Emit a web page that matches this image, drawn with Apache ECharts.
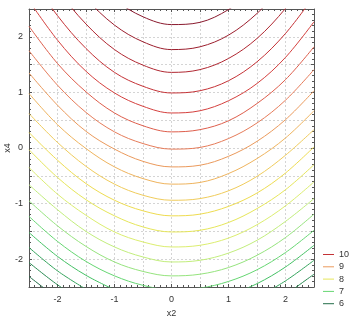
<!DOCTYPE html>
<html>
<head>
<meta charset="utf-8">
<script src="https://cdn.jsdelivr.net/npm/echarts@6/dist/echarts.min.js"></script>
<style>
  html, body { margin: 0; padding: 0; background: #fff; }
  #chart { width: 358px; height: 326px; }
</style>
</head>
<body>
<div id="chart"></div>
<script>
// contour levels, top (red) to bottom (green)
var levels = [10.75, 10.5, 10.25, 10, 9.75, 9.5, 9.25, 9, 8.75, 8.5, 8.25, 8, 7.75, 7.5, 7.25, 7, 6.75, 6.5, 6.25, 6];
var legendLevels = ['10', '9', '8', '7', '6'];
var xTicks = [-2, -1, 0, 1, 2];
var yTicks = [-2, -1, 0, 1, 2];

// x2 positions where the contours were read
var x2Grid = [-2.5, -2, -1.5, -1, -0.5, 0, 0.5, 1, 1.5, 2, 2.5];

// x4 of each contour at x2Grid (null = off the plot)
var x4Read = [
  [null, null, 3.15, 2.67, 2.36, 2.22, 2.26, 2.49, 2.88, null, null],
  [null, 3.30, 2.69, 2.21, 1.91, 1.77, 1.82, 2.03, 2.42, 2.97, null],
  [3.57, 2.84, 2.23, 1.77, 1.49, 1.36, 1.41, 1.61, 1.97, 2.51, 3.19],
  [3.11, 2.38, 1.79, 1.36, 1.11, 0.99, 1.03, 1.21, 1.55, 2.06, 2.73],
  [2.65, 1.94, 1.38, 0.99, 0.75, 0.63, 0.67, 0.85, 1.16, 1.63, 2.27],
  [2.19, 1.52, 1.01, 0.63, 0.40, 0.29, 0.33, 0.49, 0.80, 1.23, 1.82],
  [1.75, 1.13, 0.64, 0.29, 0.08, -0.02, 0.01, 0.17, 0.45, 0.86, 1.41],
  [1.35, 0.77, 0.30, -0.02, -0.24, -0.34, -0.31, -0.15, 0.12, 0.51, 1.03],
  [0.98, 0.42, -0.01, -0.34, -0.55, -0.65, -0.62, -0.46, -0.19, 0.18, 0.67],
  [0.62, 0.10, -0.33, -0.65, -0.85, -0.94, -0.91, -0.77, -0.51, -0.13, 0.33],
  [0.28, -0.22, -0.64, -0.94, -1.13, -1.22, -1.19, -1.05, -0.81, -0.45, 0.02],
  [-0.03, -0.53, -0.93, -1.22, -1.42, -1.51, -1.48, -1.34, -1.09, -0.75, -0.30],
  [-0.35, -0.83, -1.21, -1.51, -1.69, -1.78, -1.75, -1.62, -1.38, -1.04, -0.61],
  [-0.66, -1.11, -1.50, -1.78, -1.96, -2.05, -2.02, -1.89, -1.66, -1.32, -0.91],
  [-0.95, -1.40, -1.77, -2.05, -2.22, -2.30, -2.27, -2.15, -1.93, -1.61, -1.19],
  [-1.23, -1.68, -2.04, -2.30, -2.47, -2.55, -2.52, -2.40, -2.19, -1.88, -1.48],
  [-1.52, -1.95, -2.29, -2.55, null, null, null, -2.65, -2.44, -2.14, -1.75],
  [-1.79, -2.21, -2.54, null, null, null, null, null, -2.69, -2.39, -2.02],
  [-2.06, -2.46, -2.79, null, null, null, null, null, null, -2.64, -2.27],
  [-2.31, -2.71, null, null, null, null, null, null, null, null, null]
];

var lineColors = [
  '#8a1a2e', '#9c1f2e', '#b02832', '#c43236', '#d4403e', '#de5e4c', '#e67c5a', '#eb9a5c',
  '#efb45e', '#f0cc5c', '#eedc50', '#e6e65a', '#dcee70', '#c2ee7c', '#96e47e', '#66d672',
  '#44c064', '#34a45c', '#2a8a52', '#226c48'
];

// split each row into unbroken pieces
function pieces(row) {
  var out = [], cur = [];
  for (var i = 0; i < row.length; i++) {
    if (row[i] === null) {
      if (cur.length) out.push(cur);
      cur = [];
    } else {
      cur.push([x2Grid[i], row[i]]);
    }
  }
  if (cur.length) out.push(cur);
  return out;
}

var series = [];
x4Read.forEach(function (row, k) {
  pieces(row).forEach(function (pts) {
    series.push({
      name: String(levels[k]),
      type: 'line',
      data: pts,
      smooth: 0.35,
      symbol: 'none',
      clip: true,
      color: lineColors[k],
      lineStyle: { width: 1, color: lineColors[k] },
      emphasis: { disabled: true }
    });
  });
});

var labelFont = { color: '#333', fontSize: 9, fontFamily: 'Liberation Sans' };
var frameLine = { show: true, onZero: false, lineStyle: { color: '#555' } };
var frameTick = { show: true, inside: true, length: 3, lineStyle: { color: '#555' } };
var frameMinor = { show: true, splitNumber: 5, length: 2, lineStyle: { color: '#555' } };

var myChart = echarts.init(document.getElementById('chart'));
myChart.setOption({
  animation: false,
  backgroundColor: '#fff',
  grid: { left: 29, right: 44, top: 9, bottom: 39, containLabel: false, outerBoundsMode: 'none' },
  legend: {
    orient: 'vertical',
    left: 318,
    top: 245,
    data: legendLevels,
    itemWidth: 11,
    itemHeight: 1,
    itemGap: 3.3,
    icon: 'rect',
    textStyle: { color: '#333', fontSize: 9, fontFamily: 'Liberation Sans' }
  },
  xAxis: [{
    type: 'value',
    min: -2.5, max: 2.5, interval: 0.5,
    name: 'x2', nameLocation: 'middle', nameGap: 22,
    nameTextStyle: labelFont,
    axisLine: frameLine,
    axisTick: frameTick,
    minorTick: frameMinor,
    axisLabel: Object.assign({
      margin: 8,
      formatter: function (v) { return xTicks.indexOf(v) >= 0 ? String(v) : ''; }
    }, labelFont),
    splitLine: { show: true, lineStyle: { color: '#d4d4d4', type: [2, 2], width: 1 } }
  }, {
    type: 'value', position: 'top',
    min: -2.5, max: 2.5, interval: 0.5,
    axisLine: frameLine,
    axisTick: frameTick,
    minorTick: frameMinor,
    axisLabel: { show: false },
    splitLine: { show: false }
  }],
  yAxis: [{
    type: 'value',
    min: -2.5, max: 2.5, interval: 0.5,
    name: 'x4', nameLocation: 'middle', nameGap: 17, nameRotate: 90,
    nameMoveOverlap: false,
    nameTextStyle: labelFont,
    axisLine: frameLine,
    axisTick: frameTick,
    minorTick: frameMinor,
    axisLabel: Object.assign({
      margin: 6,
      formatter: function (v) { return yTicks.indexOf(v) >= 0 ? String(v) : ''; }
    }, labelFont),
    splitLine: { show: true, lineStyle: { color: '#d4d4d4', type: [2, 2], width: 1 } }
  }, {
    type: 'value', position: 'right',
    min: -2.5, max: 2.5, interval: 0.5,
    axisLine: frameLine,
    axisTick: frameTick,
    minorTick: frameMinor,
    axisLabel: { show: false },
    splitLine: { show: false }
  }],
  series: series
});
</script>
</body>
</html>
